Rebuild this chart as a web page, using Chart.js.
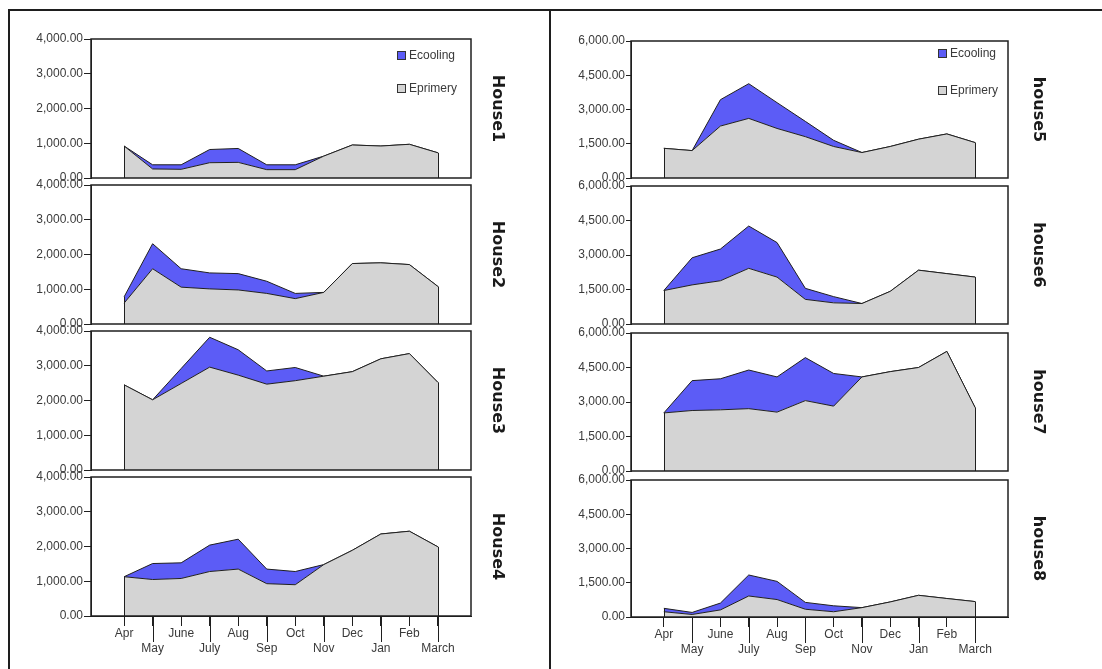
<!DOCTYPE html>
<html><head><meta charset="utf-8">
<script src="https://cdn.jsdelivr.net/npm/chart.js@4.4.1/dist/chart.umd.min.js"></script>
<style>
html,body{margin:0;padding:0;background:#fff;width:1102px;height:669px;overflow:hidden;position:relative;}
.rule{position:absolute;background:#1e1e1e;}
canvas{position:absolute;}
</style></head>
<body>
<div class="rule" style="left:8px;top:9px;width:1094px;height:2px;"></div>
<div class="rule" style="left:8px;top:9px;width:2px;height:660px;"></div>
<div class="rule" style="left:549px;top:9px;width:2px;height:660px;"></div>
<script>
// ---- data ----
const months = ['Apr','May','June','July','Aug','Sep','Oct','Nov','Dec','Jan','Feb','March'];
const leftTicks = [0, 1000, 2000, 3000, 4000];
const rightTicks = [0, 1500, 3000, 4500, 6000];
const houseNames = ['House1','House2','House3','House4','house5','house6','house7','house8'];

const house1Primary = [920, 260, 250, 440, 450, 240, 240, 630, 950, 920, 970, 725];
const house1Cooling = [0, 120, 130, 380, 400, 140, 140, 0, 0, 0, 0, 0];
const house2Primary = [600, 1590, 1060, 1010, 980, 880, 730, 910, 1740, 1760, 1710, 1080];
const house2Cooling = [180, 720, 530, 460, 470, 350, 150, 0, 0, 0, 0, 0];
const house3Primary = [2450, 2020, 2490, 2960, 2730, 2470, 2570, 2700, 2830, 3200, 3350, 2520];
const house3Cooling = [0, 0, 430, 860, 730, 380, 380, 0, 0, 0, 0, 0];
const house4Primary = [1130, 1050, 1080, 1280, 1350, 930, 900, 1480, 1890, 2360, 2440, 1990];
const house4Cooling = [0, 460, 450, 760, 860, 420, 380, 0, 0, 0, 0, 0];
const house5Primary = [1300, 1200, 2275, 2610, 2170, 1810, 1380, 1115, 1380, 1700, 1930, 1550];
const house5Cooling = [0, 0, 1155, 1520, 1130, 670, 270, 0, 0, 0, 0, 0];
const house6Primary = [1455, 1700, 1880, 2420, 2040, 1070, 920, 890, 1420, 2340, 2190, 2040];
const house6Cooling = [0, 1180, 1380, 1840, 1500, 480, 270, 0, 0, 0, 0, 0];
const house7Primary = [2525, 2630, 2660, 2710, 2560, 3060, 2820, 4090, 4320, 4500, 5200, 2755];
const house7Cooling = [0, 1300, 1350, 1680, 1530, 1870, 1420, 0, 0, 0, 0, 0];
const house8Primary = [230, 110, 310, 920, 765, 340, 230, 410, 660, 950, 810, 675];
const house8Cooling = [150, 90, 300, 920, 795, 300, 260, 0, 0, 0, 0, 0];

// ---- styling / layout ----
const BLUE = 'rgb(92,92,246)';
const GRAY = 'rgb(212,212,212)';
const LINE = '#1f1f1f';
const TXT = '#3a3a3a';
const FONT = "'Liberation Sans', Arial, sans-serif";

const cols = [
  {left:10, width:535, plotLeft:91, plotRight:471, titleX:497, tickLen:7, tickPad:1, legDx:-74, legDy:[12,45],
   rows:[[39,178],[185,324],[331,470],[477,616]]},
  {left:553, width:545, plotLeft:631, plotRight:1008, titleX:1038, tickLen:5, tickPad:1, legDx:-70, legDy:[8,45],
   rows:[[41,178],[186,324],[333,471],[480,617]]}
];
const panels = [
  [house1Primary, house1Cooling], [house2Primary, house2Cooling], [house3Primary, house3Cooling], [house4Primary, house4Cooling],
  [house5Primary, house5Cooling], [house6Primary, house6Cooling], [house7Primary, house7Cooling], [house8Primary, house8Cooling]
];

const fmt = v => v.toLocaleString('en-US', {minimumFractionDigits:2, maximumFractionDigits:2});

const panelPlugin = {
  id: 'panelDeco',
  afterDatasetsDraw(chart, args, opts) {
    const {ctx, chartArea} = chart;
    ctx.save();
    ctx.strokeStyle = LINE; ctx.lineWidth = 1;
    const meta = chart.getDatasetMeta(1);
    const pts = meta.data;
    [pts[0], pts[pts.length - 1]].forEach(p => {
      ctx.beginPath();
      ctx.moveTo(Math.round(p.x) + 0.5, p.y);
      ctx.lineTo(Math.round(p.x) + 0.5, chartArea.bottom);
      ctx.stroke();
    });
    ctx.restore();
  },
  afterDraw(chart, args, opts) {
    const {ctx, chartArea} = chart;
    ctx.save();
    ctx.strokeStyle = LINE; ctx.lineWidth = 1.5;
    ctx.strokeRect(chartArea.left, chartArea.top, chartArea.right - chartArea.left, chartArea.bottom - chartArea.top);
    if (opts.showX) {
      const xs = chart.scales.x;
      ctx.lineWidth = 1;
      xs.ticks.forEach((t, i) => {
        if (i % 2 === 1) {
          const px = Math.round(xs.getPixelForValue(t.value)) + 0.5;
          ctx.beginPath();
          ctx.moveTo(px, chartArea.bottom);
          ctx.lineTo(px, chartArea.bottom + 26);
          ctx.stroke();
        }
      });
    }
    if (opts.legend) {
      const items = chart.data.datasets.slice().reverse();
      ctx.font = '12px ' + FONT;
      ctx.textBaseline = 'middle';
      items.forEach((ds, k) => {
        const bx = chartArea.right + opts.dx;
        const by = chartArea.top + opts.dy[k];
        ctx.fillStyle = ds.backgroundColor;
        ctx.fillRect(bx, by, 9, 9);
        ctx.lineWidth = 1;
        ctx.strokeStyle = '#333';
        ctx.strokeRect(bx + 0.5, by + 0.5, 8, 8);
        ctx.fillStyle = TXT;
        ctx.fillText(ds.label, bx + 12, by + 5);
      });
    }
    ctx.restore();
  }
};

panels.forEach((pair, idx) => {
  const c = cols[idx < 4 ? 0 : 1];
  const r = idx % 4;
  const [top, bottom] = c.rows[r];
  const showX = r === 3;
  const yTicks = idx < 4 ? leftTicks : rightTicks;
  const padTop = 12;
  const xH = 44;
  const canvasTop = top - padTop;
  const canvasH = bottom - top + padTop + (showX ? xH : 12);
  const titleR = c.titleX + 9.6;
  const cv = document.createElement('canvas');
  cv.width = c.width; cv.height = canvasH;
  cv.style.left = c.left + 'px'; cv.style.top = canvasTop + 'px';
  cv.style.width = c.width + 'px'; cv.style.height = canvasH + 'px';
  document.body.appendChild(cv);

  const [primary, cooling] = pair;
  new Chart(cv, {
    type: 'line',
    data: {
      datasets: [
        {label:'Eprimery', data: primary.map((v, i) => ({x:i, y:v})), yAxisID:'y', backgroundColor: GRAY, borderColor: LINE, borderWidth: 1, fill: 'origin', pointRadius: 0, tension: 0},
        {label:'Ecooling', data: cooling.map((v, i) => ({x:i, y:v})), yAxisID:'y', backgroundColor: BLUE, borderColor: LINE, borderWidth: 1, fill: '-1', pointRadius: 0, tension: 0}
      ]
    },
    options: {
      responsive: false, animation: false, devicePixelRatio: 1,
      layout: {padding: {top: padTop, bottom: showX ? 0 : 12, left: 0, right: c.left + c.width - titleR}},
      plugins: {
        legend: {display: false}, tooltip: {enabled: false},
        panelDeco: {showX, legend: r === 0, dx: c.legDx, dy: c.legDy}
      },
      scales: {
        x: {
          type: 'linear', min: -1.16, max: 12.16, display: showX,
          afterBuildTicks: s => { s.ticks = months.map((m, i) => ({value: i})); },
          afterFit: s => { s.height = showX ? xH : 0; },
          ticks: {autoSkip: false, maxRotation: 0, minRotation: 0, padding: 0, color: TXT,
            font: {family: FONT, size: 12, lineHeight: 1.25},
            callback: (v, i) => (i % 2 === 1 ? ['', months[i]] : months[i])},
          grid: {drawOnChartArea: false, tickLength: 10, color: LINE},
          border: {color: LINE}
        },
        y: {
          stacked: true, min: 0, max: yTicks[yTicks.length - 1],
          afterBuildTicks: s => { s.ticks = yTicks.map(v => ({value: v})); },
          afterFit: s => { s.width = c.plotLeft - c.left; },
          ticks: {color: TXT, padding: c.tickPad, font: {family: FONT, size: 12}, callback: v => fmt(v)},
          grid: {drawOnChartArea: false, tickLength: c.tickLen, color: LINE},
          border: {color: LINE}
        },
        t: {
          type: 'linear', position: 'right', min: 0, max: 1,
          afterFit: s => { s.width = titleR - c.plotRight; },
          ticks: {display: false}, grid: {display: false}, border: {display: false},
          title: {display: true, text: houseNames[idx], color: '#1a1a1a', padding: 0,
            font: {family: "'DejaVu Sans', sans-serif", weight: 'bold', size: 16}}
        }
      }
    },
    plugins: [panelPlugin]
  });
});
</script>
</body></html>
